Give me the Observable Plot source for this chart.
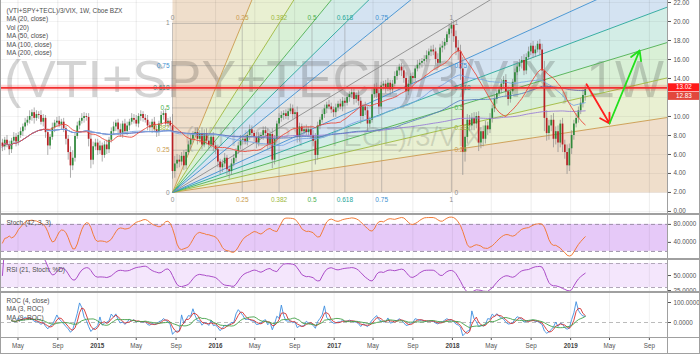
<!DOCTYPE html>
<html><head><meta charset="utf-8">
<script src="https://cdn.jsdelivr.net/npm/d3@7"></script>
<script src="https://cdn.jsdelivr.net/npm/@observablehq/plot@0.6"></script>
<style>
body{margin:0;background:#fff;}
#chart{position:relative;width:700px;height:354px;overflow:hidden;background:#fff;font-family:'Liberation Sans',Arial,sans-serif;}
#chart svg{position:absolute;left:0;}
.sep{position:absolute;background:#a0a0a0;}
</style></head><body><div id="chart"></div>
<script>
// ---------- DATA ----------
const startWeek = "2014-03-14";
const firstOpen = 7.2;
const close2014 = [6.8,7.5,7.0, 6.5,7.4,7.8,7.3, 8.0,8.4,8.9,9.3,9.6, 10.0,10.4,9.8,10.2, 10.1,9.4,9.8,8.3, 6.9,7.8,8.8,9.3,9.5, 9.1,9.4,8.7,7.6, 6.2,4.8,5.6,7.9,9.0, 9.5,9.8,10.0,9.9, 7.6,5.4,6.8,7.2];
const close2015 = [6.4,6.9,5.9,7.0,6.5, 7.5,8.4,8.9,9.3, 8.6,8.2,9.2,8.4, 9.0,9.4,9.8,9.6, 9.2,10.0,10.2,9.8,9.6, 9.0,8.8,9.4,8.6, 8.3,9.2,10.1,10.3,9.2, 9.5,9.0,4.2,5.0, 5.4,5.2,5.8,4.8, 6.2,7.0,7.6,8.1,8.3, 7.6,8.2,7.0,8.2, 7.4,7.0,7.8,6.9];
const close2016 = [6.5,5.2,4.6,5.0,5.6, 4.4,4.2,5.0,5.6, 6.3,6.9,7.5,7.6, 7.3,8.0,8.6,8.2,7.8, 7.2,7.9,8.0,8.5, 8.2,7.0,8.1,5.4, 7.6,9.2,9.8,10.1,10.3, 10.0,10.5,10.8,10.2, 10.4,7.8,8.9,8.4,8.6, 8.3,8.6,8.0,7.4, 5.9,9.0,9.6,10.2, 10.8,11.2,11.0,10.7,10.4];
const close2017 = [10.9,11.3,11.0,11.6, 11.4,12.0,12.3,12.5, 11.8,12.2,11.6,10.0,11.0, 10.6,9.2,9.6,12.3, 13.0,12.4,11.0,13.2, 13.4,12.9,13.5,12.8,13.4, 14.2,14.8,15.2,14.8, 14.0,12.6,13.4,14.2, 14.0,15.0,15.4,15.6,15.8, 16.0,16.4,16.8,17.0, 16.8,16.0,15.6,17.2, 17.4,17.8,18.6,19.2,19.6];
const close2018 = [18.4,17.2,16.8,15.0, 6.2,7.8,9.6,9.0, 9.8,9.2,10.0,7.2,8.4, 7.6,9.0,8.6,9.8, 10.8,11.8,12.4,12.8, 13.4,13.8,12.6,11.8,12.6, 13.6,14.6,15.2,15.6, 15.9,14.8,16.2,16.8,17.4, 16.6,17.0,17.6,17.0, 14.8,9.8,8.2,9.0, 9.6,7.6,8.4,7.2,9.2, 7.0,6.2,4.8,6.6];
const close2019 = [8.0,9.2,9.8,10.6,11.4,12.2,12.83];

const wickUp2014 = [.4,.3,.5, .4,.3,.5,.4, .3,.4,.3,.5,.4, .6,.3,.5,.4, .3,.5,.4,.3, .4,.3,.5,.3,.4, .5,.3,.4,.3, .4,.6,.8,.3,.4, .3,.5,.4,.3, .4,.9,.5,.4];
const wickDn2014 = [.5,.4,.3, .6,.4,.3,.5, .4,.3,.5,.4,.3, .4,.5,.6,.3, .4,.3,.5,.6, 1.0,.4,.3,.5,.4, .3,.5,.4,.6, .8,1.3,.5,.4,.3, .4,.3,.5,.4, .8,.9,.5,.4];
const wickUp2015 = [.4,.5,.3,.4,.5, .3,.4,.5,.3, .4,.6,.3,.5, .4,.3,.5,.4, .5,.3,.4,.3,.4, .5,.4,.3,.5, .4,.3,.4,.3,.5, .3,.4,1.2,.8, .6,.5,.4,.6, .3,.4,.5,.3,.4, .5,.3,.6,.4, .5,.4,.3,.5];
const wickDn2015 = [.5,.4,.7,.3,.5, .4,.3,.4,.5, .6,.4,.5,.3, .4,.5,.3,.4, .3,.4,.5,.4,.3, .5,.4,.6,.3, .5,.4,.3,.5,.4, .4,.6,.8,.7, .5,.6,.4,.5, .4,.3,.5,.4,.3, .6,.4,.5,.3, .4,.5,.4,.6];
const wickUp2016 = [.4,.5,.3,.4,.5, .3,.4,.5,.4, .3,.4,.5,.3, .4,.3,.5,.4,.3, .5,.4,.3,.4, .4,.5,.3,.6, .4,.3,.5,.4,.3, .4,.3,.5,.4, .3,.6,.4,.3,.4, .5,.3,.4,.5, .8,.4,.3,.5, .4,.3,.5,.4,.3];
const wickDn2016 = [.5,.6,.7,.5,.4, .6,.8,.4,.3, .4,.3,.4,.5, .3,.4,.5,.4,.5, .6,.4,.3,.5, .4,.5,.4,.9, .5,.4,.3,.4,.5, .3,.4,.3,.5, .4,.6,.5,.4,.3, .4,.5,.4,.6, 1.0,.5,.4,.3, .4,.5,.3,.4,.5];
const wickUp2017 = [.4,.3,.5,.4, .3,.4,.3,.5, .4,.3,.5,.4,.3, .5,.4,.3,.6, .4,.5,.3,.4, .3,.4,.5,.3,.4, .5,.4,.3,.4, .5,.6,.4,.3, .4,.3,.5,.4,.3, .4,.5,.3,.4, .5,.4,.6,.4, .5,.4,.3,.5,.4];
const wickDn2017 = [.5,.4,.3,.5, .4,.3,.5,.4, .6,.4,.5,.8,.4, .5,.9,.4,.3, .4,.5,.8,.3, .4,.5,.3,.6,.4, .3,.4,.5,.6, .5,.9,.4,.3, .5,.4,.3,.4,.5, .4,.3,.4,.5, .4,.6,.5,.3, .5,.4,.3,.4,.5];
const wickUp2018 = [.5,.6,.8,.7, 1.2,.8,.6,.5, .5,.6,.4,.5,.4, .6,.5,.4,.5, .4,.5,.3,.4, .5,.4,.6,.5,.4, .3,.4,.5,.4, .4,.6,.4,.5,.3, .5,.4,.3,.5, .6,1.0,.8,.6, .5,.7,.5,.6,.4, .6,.5,.8,.5];
const wickDn2018 = [.6,.8,.9,1.2, 2.4,1.0,.7,.6, .5,.7,.5,.9,.6, .8,.5,.6,.4, .5,.4,.5,.3, .4,.5,.6,.7,.4, .3,.4,.3,.5, .6,.5,.4,.3,.4, .5,.4,.3,.6, 1.0,1.4,.8,.7, .6,.9,.6,1.0,.5, .8,.7,.9,.6];
const wickUp2019 = [.5,.4,.5,.4,.5,.6,.4];
const wickDn2019 = [.6,.5,.4,.5,.4,.5,.6];

// Fib speed fan anchors
const fanStart = "2015-08-21", fanEnd = "2017-12-29";
const fanP0 = 2.0, fanP1 = 19.8;
const fibLevels = [0, 0.25, 0.382, 0.5, 0.618, 0.75, 1];
const fibLineColors = ["#8c8c8c","#c99a4c","#9db83c","#4caf50","#26a69a","#3d8fd0","#8c8c8c"];
const fibFillColors = ["#ffffff","#efdecb","#e9f0d2","#d9f0d6","#d3ede6","#d4e3f2","#e5e5e5"];

// horizontal level, arrows
const hLevel = 13.02;
const lastCloseLabel = 12.83;
const arrowFromDates = ["2019-02-19","2019-05-01"], arrowFromPrices = [13.4, 9.26];
const arrowToDates = ["2019-05-01","2019-08-02"], arrowToPrices = [9.26, 16.95];
const arrowColors = ["#ff1f1f","#22e01c"];

const priceTicks = [0,2,4,6,8,10,14,16,18,20,22];
const gridPrices = [0,2,4,6,8,10,12,14,16,18,20,22];
const legendLines = ["(VTI+SPY+TECL)/3/VIX, 1W, Cboe BZX","MA (20, close)","Vol (20)","MA (50, close)","MA (100, close)","MA (200, close)"];
const watermark1 = "(VTI+SPY+TECL)/3/VIX, 1W";
const watermark2 = "(VTI+SPY+TECL)/3/VIX";
const stochLabel = "Stoch (42, 3, 3)";
const rsiLabel = "RSI (21, Stoch: %D)";
const rocLabels = ["ROC (4, close)","MA (3, ROC)","MA (9, ROC)"];
const stochTicks = [80, 40], rsiTicks = [50, 25], rocTicks = [100, 0];

// ---------- BUILD ----------
const closes = [...close2014,...close2015,...close2016,...close2017,...close2018,...close2019];
const wickUp = [...wickUp2014,...wickUp2015,...wickUp2016,...wickUp2017,...wickUp2018,...wickUp2019];
const wickDn = [...wickDn2014,...wickDn2015,...wickDn2016,...wickDn2017,...wickDn2018,...wickDn2019];
const data = closes.map((c, i) => {
  const o = i ? closes[i-1] : firstOpen;
  return {date: d3.utcDay.offset(new Date(startWeek), 7*i), open: o, close: c,
    high: Math.max(o, c) + (wickUp[i] ?? 0.4), low: Math.min(o, c) - (wickDn[i] ?? 0.4)};
});
const up = data.filter(d => d.close >= d.open), down = data.filter(d => d.close < d.open);

// indicators
const sma = (arr, k) => arr.map((_, i) => d3.mean(arr.slice(Math.max(0, i-k+1), i+1)));
const rawK = data.map((d, i) => {
  const w = data.slice(Math.max(0, i-41), i+1);
  const lo = d3.min(w, e => e.low), hi = d3.max(w, e => e.high);
  return 100 * (d.close - lo) / (hi - lo);
});
const stK = sma(rawK, 3), stD = sma(stK, 3);
function rsi(arr, n) {
  let ag = 0, al = 0; const out = [];
  arr.forEach((v, i) => {
    if (i === 0) { out.push(50); return; }
    const ch = v - arr[i-1], m = Math.min(i, n);
    ag += (Math.max(ch, 0) - ag) / m; al += (Math.max(-ch, 0) - al) / m;
    out.push(al === 0 ? 100 : 100 - 100 / (1 + ag / al));
  });
  return out;
}
const rsiD = rsi(stD, 21);
const oscData = data.map((d, i) => ({date: d.date, d: stD[i], rsi: rsiD[i]}));
const rocData = data.slice(4).map((d, j) => ({date: d.date, roc: 100 * (d.close - closes[j]) / closes[j]}));

// scales
const W = 700, MR = 33;
const xDomain = [new Date("2014-03-08"), new Date("2019-10-27")];
const monthTicks = d3.utcMonth.every(4).range(xDomain[0], xDomain[1]);
const xScale = {type: "utc", domain: xDomain, axis: null};
const baseStyle = {fontFamily: "'Liberation Sans', Arial, sans-serif", fontSize: "6.3px", color: "#555", background: "transparent", overflow: "visible"};

// fan geometry
const t0 = new Date(fanStart), t1 = new Date(fanEnd);
const dT = t1 - t0, dP = fanP1 - fanP0, S = 40;
const tAt = k => new Date(+t0 + k * dT);
const upperFar = f => ({t: tAt(S * f), p: fanP0 + S * dP});
const lowerFar = f => ({t: tAt(S), p: fanP0 + S * f * dP});
const inner = fibLevels.slice(1, -1);
const seq = [upperFar(0), ...inner.map(upperFar), ...inner.slice().reverse().map(lowerFar), lowerFar(0)];
const colorOf = f => fibFillColors[fibLevels.indexOf(f)];
const fillSeq = [...inner.map(colorOf), colorOf(1), ...inner.slice().reverse().map(colorOf)];
const origin = {t: t0, p: fanP0};
const polys = fillSeq.map((c, i) => ({color: c, pts: [origin, seq[i], seq[i+1], origin]}));
const rays = [
  ...inner.map((f, i) => ({x1: t0, y1: fanP0, x2: upperFar(f).t, y2: upperFar(f).p, color: fibLineColors[i+1]})),
  ...inner.map((f, i) => ({x1: t0, y1: fanP0, x2: lowerFar(f).t, y2: lowerFar(f).p, color: fibLineColors[i+1]})),
  {x1: t0, y1: fanP0, x2: lowerFar(1).t, y2: lowerFar(1).p, color: fibLineColors[6]}
];
const boxV = fibLevels.map(f => ({x: tAt(f), y1: fanP0, y2: fanP1}));
const boxH = fibLevels.map(f => ({y: fanP0 + f * dP, x1: t0, x2: t1}));
const lab = (f, i, t, p) => ({t, p, text: String(f), color: fibLineColors[i]});
const labTop = fibLevels.map((f, i) => lab(f, i, tAt(f), fanP1));
const labBot = fibLevels.map((f, i) => lab(f, i, tAt(f), fanP0));
const labLeft = fibLevels.map((f, i) => lab(f, i, t0, fanP0 + f * dP));
const labRight = fibLevels.map((f, i) => lab(f, i, t1, fanP0 + f * dP));
const arrows = arrowFromDates.map((d, i) => ({x1: new Date(d), y1: arrowFromPrices[i], x2: new Date(arrowToDates[i]), y2: arrowToPrices[i], color: arrowColors[i]}));

const fibText = (arr, opts) => Plot.text(arr, {x: "t", y: "p", text: "text", fill: "color", fontSize: 6.5, ...opts});

const main = Plot.plot({
  width: W, height: 214, marginTop: 0, marginBottom: 0, marginLeft: 0, marginRight: MR,
  style: baseStyle, x: xScale,
  y: {domain: [-0.32, 22.21], axis: "right", ticks: priceTicks, tickFormat: d => d.toFixed(2), tickSize: 3, tickPadding: 3, label: null},
  color: {type: "identity"},
  marks: [
    ...polys.map(pg => Plot.line(pg.pts, {x: "t", y: "p", fill: pg.color, stroke: "none", clip: true, curve: "linear"})),
    Plot.ruleX(monthTicks, {stroke: "#000", strokeOpacity: 0.07}),
    Plot.ruleY(gridPrices, {stroke: "#000", strokeOpacity: 0.05}),
    Plot.text([watermark1], {text: d => d, frameAnchor: "top", dy: 80, fontSize: 52, fill: "#000", fillOpacity: 0.17, lineAnchor: "middle"}),
    Plot.text([watermark2], {text: d => d, frameAnchor: "top", dy: 137, fontSize: 28, fill: "#000", fillOpacity: 0.12, lineAnchor: "middle"}),
    Plot.ruleX(boxV, {x: "x", y1: "y1", y2: "y2", stroke: "#888", strokeOpacity: 0.55, strokeWidth: 0.8}),
    Plot.ruleY(boxH, {y: "y", x1: "x1", x2: "x2", stroke: "#888", strokeOpacity: 0.55, strokeWidth: 0.8}),
    Plot.link(rays, {x1: "x1", y1: "y1", x2: "x2", y2: "y2", stroke: "color", strokeWidth: 0.9, clip: true}),
    Plot.ruleX(data, {x: "date", y1: "low", y2: "high", stroke: "#8a8a8a", strokeWidth: 0.7}),
    Plot.ruleX(up, {x: "date", y1: "open", y2: "close", stroke: "#2f8a3a", strokeWidth: 1.7}),
    Plot.ruleX(down, {x: "date", y1: "open", y2: "close", stroke: "#b82025", strokeWidth: 1.7}),
    Plot.lineY(data, Plot.windowY({k: 200, anchor: "end"}, {x: "date", y: "close", stroke: "#9a7fd6", strokeWidth: 0.9})),
    Plot.lineY(data, Plot.windowY({k: 100, anchor: "end"}, {x: "date", y: "close", stroke: "#5a7fbd", strokeWidth: 0.9})),
    Plot.lineY(data, Plot.windowY({k: 50, anchor: "end"}, {x: "date", y: "close", stroke: "#7aa6e2", strokeWidth: 0.9})),
    Plot.lineY(data, Plot.windowY({k: 20, anchor: "end"}, {x: "date", y: "close", stroke: "#ea4a3c", strokeWidth: 0.9})),
    fibText(labTop, {dy: -5}),
    fibText(labBot, {dy: 7}),
    fibText(labLeft, {dx: -3, textAnchor: "end"}),
    fibText(labRight, {dx: 3, textAnchor: "start"}),
    Plot.ruleY([hLevel], {stroke: "#ff0000", strokeOpacity: 0.16, strokeWidth: 6}),
    Plot.ruleY([hLevel], {stroke: "#f23030", strokeWidth: 1.8}),
    Plot.arrow(arrows, {x1: "x1", y1: "y1", x2: "x2", y2: "y2", stroke: "color", strokeWidth: 1.8, headLength: 9}),
    Plot.text([legendLines.join("\n")], {text: d => d, frameAnchor: "top-left", dx: 6, dy: 6, lineAnchor: "top", fontSize: 6.5, lineHeight: 1.31, fill: "#4d4d4d"})
  ]
});

const stochPlot = Plot.plot({
  width: W, height: 45, marginTop: 0, marginBottom: 0, marginLeft: 0, marginRight: MR,
  style: baseStyle, x: xScale,
  y: {domain: [2, 102], axis: "right", ticks: stochTicks, tickFormat: d => d.toFixed(4), tickSize: 3, tickPadding: 3, label: null},
  marks: [
    Plot.rect([0], {y1: 20, y2: 80, fill: "#e6c9f8"}),
    Plot.ruleX(monthTicks, {stroke: "#000", strokeOpacity: 0.06}),
    Plot.ruleY([20, 80], {stroke: "#9c90a8", strokeDasharray: "4,3"}),
    Plot.lineY(oscData, {x: "date", y: "d", stroke: "#f27c3a", strokeWidth: 1, clip: true}),
    Plot.text([stochLabel], {text: d => d, frameAnchor: "top-left", dx: 6, dy: 8, fontSize: 6.5, fill: "#4d4d4d", lineAnchor: "middle"})
  ]
});

const rsiPlot = Plot.plot({
  width: W, height: 33, marginTop: 0, marginBottom: 0, marginLeft: 0, marginRight: MR,
  style: baseStyle, x: xScale,
  y: {domain: [21.7, 76.7], axis: "right", ticks: rsiTicks, tickFormat: d => d.toFixed(4), tickSize: 3, tickPadding: 3, label: null},
  marks: [
    Plot.rect([0], {y1: 30, y2: 70, fill: "#f4e6fc"}),
    Plot.ruleX(monthTicks, {stroke: "#000", strokeOpacity: 0.06}),
    Plot.ruleY([30, 70], {stroke: "#b0a6b8", strokeDasharray: "4,3"}),
    Plot.lineY(oscData, {x: "date", y: "rsi", stroke: "#ab4cc8", strokeWidth: 1, clip: true}),
    Plot.text([rsiLabel], {text: d => d, frameAnchor: "top-left", dx: 6, dy: 10, fontSize: 6.5, fill: "#4d4d4d", lineAnchor: "middle"})
  ]
});

const fmtTick = d => d.getUTCMonth() === 0 ? String(d.getUTCFullYear()) : d3.utcFormat("%b")(d);
const rocPlot = Plot.plot({
  width: W, height: 62, marginTop: 0, marginBottom: 17, marginLeft: 0, marginRight: MR,
  style: baseStyle,
  x: {type: "utc", domain: xDomain, axis: "bottom", ticks: monthTicks, tickFormat: fmtTick, tickSize: 3, tickPadding: 3, label: null},
  y: {domain: [-75, 150], axis: "right", ticks: rocTicks, tickFormat: d => d.toFixed(4), tickSize: 3, tickPadding: 3, label: null},
  marks: [
    Plot.ruleX(monthTicks, {stroke: "#000", strokeOpacity: 0.06}),
    Plot.ruleY([0], {stroke: "#bbb", strokeDasharray: "4,3"}),
    Plot.lineY(rocData, {x: "date", y: "roc", stroke: "#3d8ee0", strokeWidth: 0.9, clip: true}),
    Plot.lineY(rocData, Plot.windowY({k: 3, anchor: "end"}, {x: "date", y: "roc", stroke: "#d32f2f", strokeWidth: 0.9, clip: true})),
    Plot.lineY(rocData, Plot.windowY({k: 9, anchor: "end"}, {x: "date", y: "roc", stroke: "#43a047", strokeWidth: 0.9, clip: true})),
    Plot.text([rocLabels.join("\n")], {text: d => d, frameAnchor: "top-left", dx: 6, dy: 5, lineAnchor: "top", fontSize: 6.5, lineHeight: 1.25, fill: "#4d4d4d"})
  ]
});

const chart = document.getElementById("chart");
[[main, 0], [stochPlot, 214], [rsiPlot, 259], [rocPlot, 292]].forEach(([el, top]) => { el.style.top = top + "px"; chart.appendChild(el); });

// watermark width matching
d3.select(main).selectAll("text").filter(function() { return this.textContent === watermark1; })
  .attr("textLength", 660).attr("lengthAdjust", "spacingAndGlyphs");
// bold years
d3.select(rocPlot).selectAll("text").filter(function() { return /^\d{4}$/.test(this.textContent); })
  .attr("font-weight", "bold").attr("fill", "#444");

// price labels on the right axis, placed with the plot's y scale
const sy = main.scale("y");
const yPix = v => (sy.apply ? sy.apply(v) : d3.scaleLinear(sy.domain, sy.range)(v));
const yA = yPix(hLevel), yB = Math.max(yPix(lastCloseLabel), yA + 8.6);
const g = d3.select(main).append("g");
[[yA, hLevel, "#ff1a1a"], [yB, lastCloseLabel, "#e2473c"]].forEach(([y, v, c]) => {
  g.append("rect").attr("x", W - MR + 1).attr("y", y - 4).attr("width", MR - 1).attr("height", 8).attr("fill", c);
  g.append("text").attr("x", W - MR + 17).attr("y", y).attr("dy", "0.35em").attr("text-anchor", "middle")
    .attr("fill", "#fff").attr("font-size", 6.3).text(v.toFixed(2));
});

// panel separators and frame
const seps = [[0, 213, 700, 2], [0, 258, 700, 2], [0, 291, 700, 2], [0, 337, 700, 1], [667, 0, 1, 354], [0, 0, 1, 354], [0, 353, 700, 1], [699, 0, 1, 354]];
seps.forEach(([l, t, w, h]) => { const d = document.createElement("div"); d.className = "sep"; Object.assign(d.style, {left: l + "px", top: t + "px", width: w + "px", height: h + "px"}); chart.appendChild(d); });
</script></body></html>
